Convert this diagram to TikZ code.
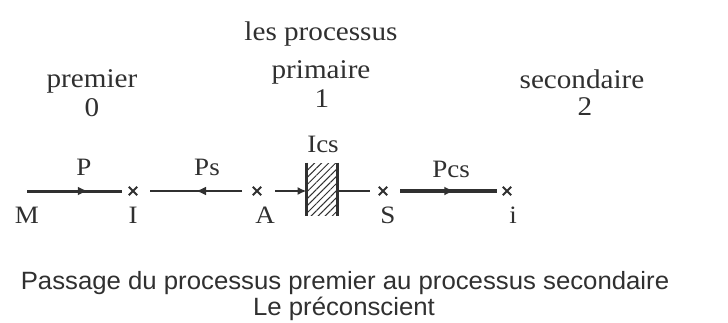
\documentclass[tikz,border=0pt]{standalone}
\usepackage{fontspec}
\setmainfont{Liberation Serif}[FakeStretch=1.08]
\newfontfamily\capfont{Liberation Sans}[FakeStretch=1.03]
\usetikzlibrary{arrows.meta,decorations.markings,patterns.meta,shapes.misc}
\definecolor{ink}{HTML}{303030}
\begin{document}
\begin{tikzpicture}[x=1pt,y=-1pt,
  toplab/.style={font=\fontsize{27}{27}\selectfont, text=ink, anchor=base, inner sep=0pt},
  ptlab/.style={font=\fontsize{25}{25}\selectfont, text=ink, anchor=base, inner sep=0pt},
  caplab/.style={font=\capfont\fontsize{25}{25}\selectfont, text=ink, anchor=base, inner sep=0pt},
  crossmark/.style={cross out, draw=ink, line width=1.9pt, minimum size=6.5pt, inner sep=0pt},
  midarrow/.style={postaction={decorate}, decoration={markings, mark=at position #1 with {\arrow{Latex[length=10pt,width=9pt]}}}},
  hatchbox/.style={minimum width=30pt, minimum height=52pt, inner sep=0pt, draw=none,
     pattern={Lines[angle=45,distance=5pt,line width=1pt]}, pattern color=ink},
]
\useasboundingbox (0,0) rectangle (728,322);
\fill[white] (0,0) rectangle (728,322);

% headings
\node[toplab] (lesproc) at (321,40) {les processus};
\node[toplab] (premier) at (92,87) {premier};
\node[toplab] (zero) at (92,116) {0};
\node[toplab] (primaire) at (321,78) {primaire};
\node[toplab] (one) at (322,107) {1};
\node[toplab] (secondaire) at (582,88) {secondaire};
\node[toplab] (two) at (585,115) {2};

% crosses
\coordinate (m0) at (27,191);
\node[crossmark] (I) at (133,191) {};
\node[crossmark] (A) at (257,191) {};
\node[crossmark] (S) at (383,191) {};
\node[crossmark] (i) at (507,191) {};

% hatched barrier
\node[hatchbox] (box) at (322,189) {};
\draw[ink, line width=2.2pt] (box.north west) -- (box.south west);
\draw[ink, line width=2.2pt] (box.north east) -- (box.south east);

% connectors
\draw[ink, line width=3pt, midarrow=0.64] (m0) -- ([xshift=-11pt]I.center);
\draw[ink, line width=2pt, midarrow=0.5] ([xshift=-15pt]A.center) -- ([xshift=17pt]I.center);
\draw[ink, line width=1.6pt, -{Latex[length=9pt,width=8pt]}] ([xshift=18pt]A.center) -- (box.west |- A.center);
\draw[ink, line width=2.6pt] (box.east |- S.center) -- ([xshift=-13pt]S.center);
\draw[ink, line width=3.4pt, midarrow=0.56] ([xshift=17pt]S.center) -- ([xshift=-10pt]i.center);

% point labels
\node[ptlab] (lP) at (84,175) {P};
\node[ptlab] (lPs) at (207,175) {Ps};
\node[ptlab] (lIcs) at (323,152) {Ics};
\node[ptlab] (lPcs) at (451,177) {Pcs};
\node[ptlab] (lM) at (27,223) {M};
\node[ptlab] (lI) at (133,223) {I};
\node[ptlab] (lA) at (265,223) {A};
\node[ptlab] (lS) at (388,223) {S};
\node[ptlab] (li) at (513,223) {i};

% caption
\node[caplab] (cap1) at (345,289) {Passage du processus premier au processus secondaire};
\node[caplab] (cap2) at (344,315) {Le préconscient};
\end{tikzpicture}
\end{document}
